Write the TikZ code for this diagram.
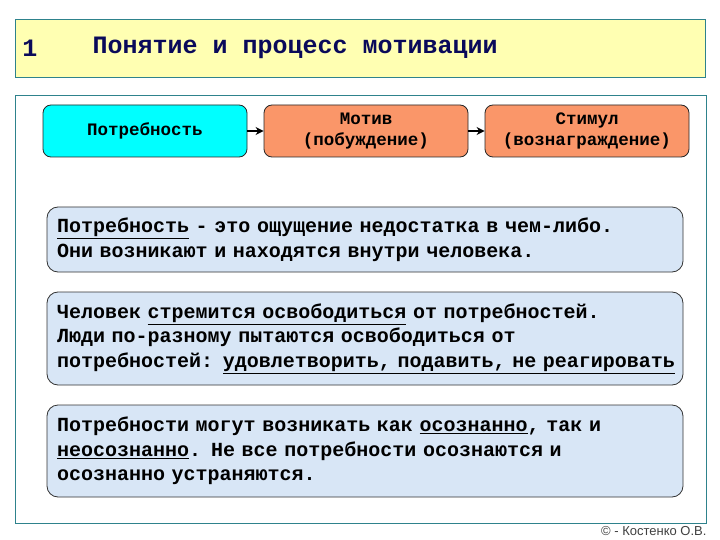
\documentclass[tikz,border=0pt]{standalone}
\usepackage{fontspec}
\setmainfont{Liberation Mono}
\newfontfamily\footfont{Liberation Sans}
\definecolor{titleyellow}{RGB}{255, 255, 178}
\definecolor{frameteal}{RGB}{46, 130, 140}
\definecolor{titlenavy}{RGB}{10, 10, 90}
\definecolor{needcyan}{RGB}{0, 255, 255}
\definecolor{stepsalmon}{RGB}{250, 150, 105}
\definecolor{notepale}{RGB}{216, 230, 246}
\usetikzlibrary{arrows.meta, positioning}

\begin{document}
\begin{tikzpicture}[x=1pt, y=-1pt,
    stagebox/.style={draw=black!85, rounded corners=8pt, line width=0.8pt,
      minimum width=204pt, minimum height=52pt, align=center,
      font=\fontsize{17.5}{21}\selectfont\bfseries},
    notebox/.style={draw=black!80, fill=notepale, rounded corners=11pt, line width=0.8pt,
      text width=616pt, inner xsep=10pt, align=left,
      font=\fontsize{20}{24.5}\selectfont\bfseries},
    link/.style={line width=1.5pt, -{Stealth[length=8pt, width=8pt]}}]
  \useasboundingbox (0, 0) rectangle (720, 540);
  \fill[white] (0, 0) rectangle (720, 540);

  % Title bar
  \draw[frameteal, fill=titleyellow, line width=0.8pt] (15, 19) rectangle (705, 77);
  \node[font=\fontsize{25}{28}\selectfont\bfseries, text=titlenavy] (num) at (30, 48) {1};
  \node[font=\fontsize{25}{28}\selectfont\bfseries, text=titlenavy, anchor=west] (title) at (89, 48) {Понятие и процесс мотивации};

  % Main frame
  \draw[frameteal, line width=0.8pt] (15, 95) rectangle (706, 523);

  % Chain of stages
  \node[stagebox, fill=needcyan] (need) at (145, 131) {Потребность};
  \node[stagebox, fill=stepsalmon] (motive) at (366, 131) {Мотив\\(побуждение)};
  \node[stagebox, fill=stepsalmon] (reward) at (587, 131) {Стимул\\(вознаграждение)};
  \draw[link] (need) -- (motive);
  \draw[link] (motive) -- (reward);

  % Notes
  \node[notebox, minimum height=65pt] (def) at (365, 239.5) {%
    \underline{Потребность} - это ощущение недостатка в чем-либо.\\
    Они возникают и находятся внутри человека.};

  \node[notebox, minimum height=93pt] (relief) at (365, 338.5) {%
    Человек \underline{стремится освободиться} от потребностей.\\
    Люди по-разному пытаются освободиться от\\
    потребностей: \underline{удовлетворить, подавить, не реагировать}};

  \node[notebox, minimum height=92pt] (aware) at (365, 451) {%
    Потребности могут возникать как \underline{осознанно}, так и\\
    \underline{неосознанно}. Не все потребности осознаются и\\
    осознанно устраняются.};

  % Footer
  \node[font=\footfont\fontsize{13}{15}\selectfont, text=black!75, anchor=east] (credit) at (710, 531) {© - Костенко О.В.};
\end{tikzpicture}
\end{document}
